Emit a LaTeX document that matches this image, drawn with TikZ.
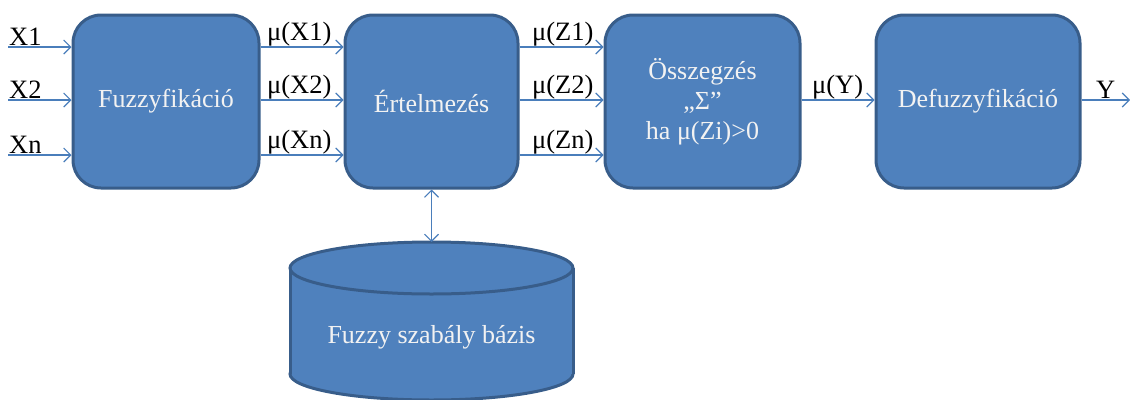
\documentclass[tikz,border=0pt]{standalone}
\usepackage{fontspec}
\setmainfont{Liberation Serif}
\usetikzlibrary{arrows.meta,calc}
\definecolor{boxfill}{HTML}{4F81BD}
\definecolor{boxline}{HTML}{385D8A}
\definecolor{arrblue}{HTML}{4A7EBB}
\definecolor{boxtext}{HTML}{F2F2F2}
\tikzset{
  block/.style={draw=boxline, fill=boxfill, line width=3pt, rounded corners=28pt,
    minimum height=173pt, text=boxtext, align=center, font=\fontsize{26}{30}\selectfont, inner sep=0pt},
  conn/.style={draw=arrblue, line width=1.3pt, -{Straight Barb[length=7pt,width=14pt,line width=1.1pt]}},
  dconn/.style={draw=arrblue, line width=1.3pt, {Straight Barb[length=7pt,width=14pt,line width=1.1pt]}-{Straight Barb[length=7pt,width=14pt,line width=1.1pt]}},
  lbl/.style={font=\fontsize{26.5}{30}\selectfont, inner sep=1pt, anchor=south west}
}
\begin{document}
\begin{tikzpicture}[x=1pt,y=-1pt]
\useasboundingbox (0,0) rectangle (1130,399);
% blocks
\node[block, minimum width=186pt] (f) at (166,101.5) {Fuzzyfikáció};
\node[block, minimum width=173pt] (e) at (431.5,101.5) {Értelmezés};
\node[block, minimum width=195pt] (s) at (702.5,101.5) {Összegzés\\„Σ”\\ha μ(Zi)>0};
\node[block, minimum width=204pt] (d) at (978,101.5) {Defuzzyfikáció};
% inputs
\coordinate (i1) at (8,47);
\coordinate (i2) at (8,100);
\coordinate (i3) at (8,155);
\draw[conn] (i1) -- (f.west |- i1);
\draw[conn] (i2) -- (f.west |- i2);
\draw[conn] (i3) -- (f.west |- i3);
\node[lbl] (lx1) at (8,47) {X1};
\node[lbl] (lx2) at (8,100) {X2};
\node[lbl] (lxn) at (8,155) {Xn};
% f -> e
\draw[conn] (f.east |- i1) -- (e.west |- i1);
\draw[conn] (f.east |- i2) -- (e.west |- i2);
\draw[conn] (f.east |- i3) -- (e.west |- i3);
\node[lbl] (lm1) at (266,47) {μ(X1)};
\node[lbl] (lm2) at (266,100) {μ(X2)};
\node[lbl] (lmn) at (266,155) {μ(Xn)};
% e -> s
\draw[conn] (e.east |- i1) -- (s.west |- i1);
\draw[conn] (e.east |- i2) -- (s.west |- i2);
\draw[conn] (e.east |- i3) -- (s.west |- i3);
\node[lbl] (lz1) at (531,47) {μ(Z1)};
\node[lbl] (lz2) at (531,100) {μ(Z2)};
\node[lbl] (lzn) at (531,155) {μ(Zn)};
% s -> d
\draw[conn] (s.east |- i2) -- (d.west |- i2);
\node[lbl] (ly) at (811,100) {μ(Y)};
% output
\coordinate (out) at (1130,100);
\draw[conn] (d.east |- i2) -- (out);
\node[lbl] (lyo) at (1095,100) {Y};
% database cylinder
\fill[boxfill, draw=boxline, line width=3pt] (431.5,374) circle[x radius=141.5, y radius=26];
\fill[boxfill] (290,268) rectangle (573,374);
\draw[boxline, line width=3pt] (290,268) -- (290,374) (573,268) -- (573,374);
\fill[boxfill, draw=boxline, line width=3pt] (431.5,268) circle[x radius=141.5, y radius=26];
\node[text=boxtext, font=\fontsize{26}{30}\selectfont] (db) at (431.5,337) {Fuzzy szabály bázis};
\coordinate (dbtop) at (431.5,242);
\draw[dconn] (e.south) -- (dbtop);
\end{tikzpicture}
\end{document}
